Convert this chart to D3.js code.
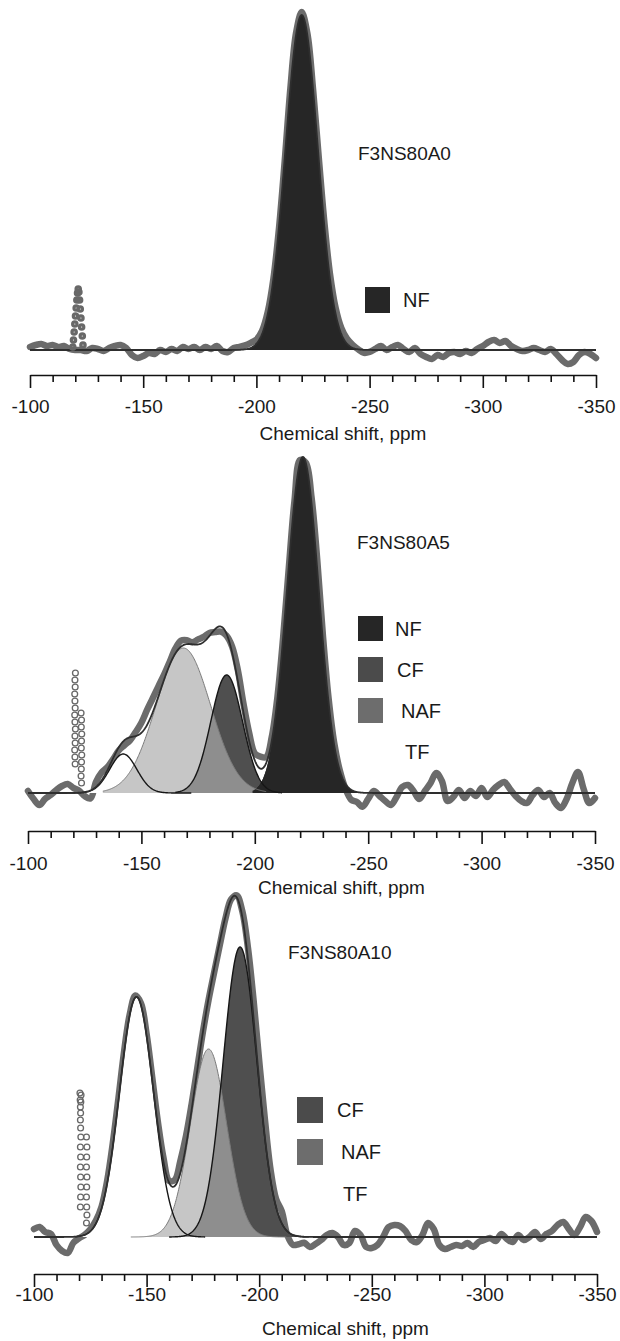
<!DOCTYPE html>
<html>
<head>
<meta charset="utf-8">
<script src="https://cdn.jsdelivr.net/npm/d3@7"></script>
<style>
  body { margin: 0; background: #fff; }
  svg { display: block; }
  text { font-family: "Liberation Sans", Arial, Helvetica, sans-serif; fill: #1a1a1a; }
</style>
</head>
<body>
<svg id="chart" width="620" height="1341"></svg>
<script>
// ---------- data ----------
const shiftTicks = [-100, -150, -200, -250, -300, -350];
const minorTicks = [-110, -120, -130, -140, -160, -170, -180, -190, -210, -220, -230, -240,
                    -260, -270, -280, -290, -310, -320, -330, -340];
const axisTitle = "Chemical shift, ppm";
const sampleIds = ["F3NS80A0", "F3NS80A5", "F3NS80A10"];
const gridStep = 2.5; // ppm spacing of the measured-deviation arrays (from -100 ppm)

// Gaussian fit components: site, centre (ppm), amplitude, sigma (ppm), fitted span (ppm)
const siteA0 = ["NF"];
const centreA0 = [-220];
const ampA0 = [335];
const sigmaA0 = [7.1];
const spanA0 = [[-188, -252]];

const siteA5 = ["TF", "NAF", "CF", "NF"];
const centreA5 = [-142, -168.5, -187.6, -221.2];
const ampA5 = [39, 145, 118, 336];
const sigmaA5 = [6.0, 12.0, 7.0, 7.0];
const spanA5 = [[-112, -172], [-133, -205], [-165, -212], [-199, -246]];

const siteA10 = ["TF", "NAF", "CF"];
const centreA10 = [-145.5, -177.5, -191.5];
const ampA10 = [240, 188, 290];
const sigmaA10 = [7.5, 8.0, 7.5];
const spanA10 = [[-118, -176], [-143, -212], [-160, -222]];

// measured spectrum minus fit, every 2.5 ppm from -100 to -350 ppm
const residA0 = [3, 5, 6, 4, 5, 3, 4, 1, 0, 0, -1, 2, 1, -1, 2, 4, 5, 2, -5, -8,
  -6, -3, -4, 0, -2, 1, -1, 3, 1, 3, 0, 3, 1, 4, -1, -2, 2, 3, 4, 5,
  4, 3, 2, 0, -2, -3, 0, 2, 3, 2, 0, 2, 4, 5, 6, 6, 5, 3, 0, -3,
  -2, 1, 4, 0, 3, 5, 1, -2, 2, -4, -7, -9, -5, -7, -3, -2, -4, -1, -3, 1,
  4, 8, 10, 7, 9, 4, 1, -1, 0, 2, 0, -2, 1, -4, -10, -14, -12, -5, -2, -4, -8];
const residA5 = [2, -6, -12, -6, -2, 3, 7, 9, 5, 2, -4, -8, 5, 8, 3, -1, -3, -5, -3, 4,
  10, 15, 14, 10, 5, 3, 5, 6, 4, 2, 5, 5, 3, -3, -5, -2, 6, 11, 9, 8,
  7, 12, 6, 4, 2, 0, -2, 0, 2, 0, 6, 10, 6, 4, 2, 0, -5, -10, -10, -14,
  -6, 2, -3, -8, -12, -4, 6, 8, 2, -6, 2, 10, 20, 12, -8, -4, 3, -5, 2, -3,
  5, -4, 3, 8, 11, 4, -3, -8, -10, -2, 3, -4, 0, -10, -15, -6, 10, 21, 4, -10, -5];
const residA10 = [8, 10, 5, 3, -8, -14, -16, -6, -2, 0, 2, 3, 2, 3, 4, 3, 2, 1, 2, 2,
  2, 3, 4, 4, 2, 6, 12, 10, 6, 2, 0, -2, -4, -4, -2, 0, 2, 6, 12, 18,
  20, 18, 10, 8, 12, -4, -10, -8, -6, -10, -7, -3, 2, 4, 0, -8, -6, 6, 2, -10,
  -11, -8, 0, 10, 12, 11, 6, -3, -5, 2, 14, 8, -8, -12, -10, -8, -9, -6, -10, -5,
  -3, -1, -4, 3, -2, -5, 2, -3, 0, 5, -2, 3, 6, 12, 15, 8, 2, 10, 20, 16, 5];

// spinning sideband points near -121 ppm
const sbPpmA0 = [-118.9, -119.2, -119.5, -119.8, -120.1, -120.4, -120.7, -121.0, -121.3,
                 -121.6, -121.9, -122.2, -122.5, -122.8, -123.1, -123.4];
const sbAmpA0 = [3, 10, 18, 26, 34, 42, 50, 57, 61, 58, 50, 41, 32, 23, 14, 5];
const sbPpmA5 = [-120.9, -120.7, -120.8, -120.6, -120.7, -120.8, -120.6, -120.7, -120.9, -120.7, -120.8, -120.6, -120.7, -120.8,
                 -123.4, -123.6, -123.5, -123.7, -123.6, -123.5, -123.7, -123.6, -123.5, -123.4, -123.6];
const sbAmpA5 = [120, 113, 106, 99, 92, 85, 78, 71, 64, 57, 50, 43, 36, 29,
                 80, 73, 66, 59, 52, 45, 38, 31, 24, 17, 10];
const sbPpmA10 = [-120.4, -120.9, -120.5, -120.8, -120.6, -120.7, -120.6, -120.7, -120.8, -120.6, -120.7, -120.6, -120.7, -120.8, -120.7, -120.6,
                  -123.3, -123.5, -123.4, -123.3, -123.5, -123.4, -123.3, -123.4, -123.5, -123.3];
const sbAmpA10 = [144, 142, 137, 135, 130, 124, 117, 109, 100, 90, 80, 70, 60, 50, 40, 30,
                  100, 90, 80, 70, 60, 50, 40, 30, 22, 14];

const legendA0 = ["NF"];
const legendA5 = ["NF", "CF", "NAF", "TF"];
const legendA10 = ["CF", "NAF", "TF"];

// ---------- styles ----------
const areaStyle = {
  TF:  { fill: "#ffffff", stroke: "#161616", sw: 1.4 },
  NAF: { fill: "#c6c6c6", stroke: "#7a7a7a", sw: 1.0 },
  CF:  { fill: "#4f4f4f", stroke: "#161616", sw: 1.4 },
  NF:  { fill: "#262626", stroke: "none", sw: 0 }
};
const overlapFill = "#8e8e8e";
const legendFill = { NF: "#262626", CF: "#4b4b4b", NAF: "#6d6d6d" };
const drawOrder = ["TF", "NAF", "CF", "NF"];

const panels = [
  { id: sampleIds[0], site: siteA0, centre: centreA0, amp: ampA0, sigma: sigmaA0, span: spanA0,
    resid: residA0, sbPpm: sbPpmA0, sbAmp: sbAmpA0, legend: legendA0, sbR: 2.2, sbW: 3.2,
    lay: { x0: 30, x1: 596, base: 350, axisY: 375, tickLab: 413, titleY: 440, idX: 358, idY: 160,
           boxX: 365, boxY: 287, boxW: 25, boxH: 26, step: 41, textX: [403] } },
  { id: sampleIds[1], site: siteA5, centre: centreA5, amp: ampA5, sigma: sigmaA5, span: spanA5,
    resid: residA5, sbPpm: sbPpmA5, sbAmp: sbAmpA5, legend: legendA5, sbR: 2.9, sbW: 1.3,
    lay: { x0: 28, x1: 595, base: 793, axisY: 831, tickLab: 870, titleY: 894, idX: 357, idY: 549,
           boxX: 358, boxY: 616, boxW: 25, boxH: 25, step: 41, textX: [395, 397, 401, 405] } },
  { id: sampleIds[2], site: siteA10, centre: centreA10, amp: ampA10, sigma: sigmaA10, span: spanA10,
    resid: residA10, sbPpm: sbPpmA10, sbAmp: sbAmpA10, legend: legendA10, sbR: 2.9, sbW: 1.3,
    lay: { x0: 34, x1: 597, base: 1237, axisY: 1274, tickLab: 1301, titleY: 1335, idX: 288, idY: 959,
           boxX: 297, boxY: 1097, boxW: 26, boxH: 26, step: 42, textX: [337, 341, 343] } }
];

// ---------- drawing ----------
const svg = d3.select("#chart");
const gauss = (v, c, a, s) => a * Math.exp(-((v - c) * (v - c)) / (2 * s * s));

panels.forEach(p => {
  const L = p.lay;
  const g = svg.append("g").attr("class", "panel");
  const x = d3.scaleLinear().domain([-100, -350]).range([L.x0, L.x1]);
  const y = d3.scaleLinear().domain([0, 340]).range([L.base, L.base - 340]);

  const comp = p.site.map((s, k) => ({ site: s, c: p.centre[k], a: p.amp[k], s: p.sigma[k], span: p.span[k] }));
  const fitAt = v => d3.sum(comp, q => gauss(v, q.c, q.a, q.s));

  // measured spectrum: fit + recorded deviation
  const measured = p.resid.map((r, i) => { const v = -100 - gridStep * i; return [v, fitAt(v) + r]; });
  g.append("path").datum(measured)
    .attr("d", d3.line().x(d => x(d[0])).y(d => y(d[1])).curve(d3.curveCatmullRom))
    .attr("fill", "none").attr("stroke", "#6b6b6b").attr("stroke-width", 6.5)
    .attr("stroke-linejoin", "round").attr("stroke-linecap", "round");

  const area = d3.area().x(d => x(d[0])).y0(y(0)).y1(d => y(d[1]));
  const line = d3.line().x(d => x(d[0])).y(d => y(d[1]));
  const fine = (a, b) => d3.range(a, b - 0.001, -0.25);

  const ordered = drawOrder.map(s => comp.find(q => q.site === s)).filter(Boolean);
  ordered.forEach(q => {
    const pts = fine(q.span[0], q.span[1]).map(v => [v, gauss(v, q.c, q.a, q.s)]);
    g.append("path").datum(pts).attr("d", area).attr("fill", areaStyle[q.site].fill);
  });

  // shared NAF/CF region
  const naf = comp.find(q => q.site === "NAF"), cf = comp.find(q => q.site === "CF");
  if (naf && cf) {
    const pts = fine(Math.min(naf.span[0], cf.span[0]), Math.min(naf.span[1], cf.span[1]))
      .map(v => [v, Math.min(gauss(v, naf.c, naf.a, naf.s), gauss(v, cf.c, cf.a, cf.s))]);
    g.append("path").datum(pts).attr("d", area).attr("fill", overlapFill);
  }
  const nf = comp.find(q => q.site === "NF");
  if (nf && naf) {
    const pts = fine(nf.span[0], nf.span[1]).map(v => [v, gauss(v, nf.c, nf.a, nf.s)]);
    g.append("path").datum(pts).attr("d", area).attr("fill", areaStyle.NF.fill);
  }

  ["NAF", "CF", "TF"].forEach(s => {
    const q = comp.find(c => c.site === s);
    if (!q) return;
    const pts = fine(q.span[0], q.span[1]).map(v => [v, gauss(v, q.c, q.a, q.s)]);
    g.append("path").datum(pts).attr("d", line).attr("fill", "none")
      .attr("stroke", areaStyle[s].stroke).attr("stroke-width", areaStyle[s].sw);
  });

  // total fit
  const total = fine(-100, -350).map(v => [v, fitAt(v)]);
  g.append("path").datum(total).attr("d", line).attr("fill", "none")
    .attr("stroke", "#2e2e2e").attr("stroke-width", 1.8);

  // sideband points
  g.selectAll("circle.sb").data(p.sbPpm.map((v, i) => [v, p.sbAmp[i]])).join("circle")
    .attr("class", "sb").attr("cx", d => x(d[0])).attr("cy", d => y(d[1])).attr("r", p.sbR)
    .attr("fill", "none").attr("stroke", "#686868").attr("stroke-width", p.sbW);

  // axis
  const minorAxis = d3.axisBottom(x).tickValues(minorTicks).tickSize(7).tickSizeOuter(0).tickFormat("");
  const majorAxis = d3.axisBottom(x).tickValues(shiftTicks).tickSize(13).tickSizeOuter(0)
    .tickFormat(d => String(d));
  const ga = g.append("g").attr("transform", `translate(0,${L.axisY})`);
  ga.call(minorAxis);
  const gm = g.append("g").attr("transform", `translate(0,${L.axisY})`).call(majorAxis);
  gm.select(".domain").remove();
  [ga, gm].forEach(s => {
    s.selectAll("line").attr("stroke", "#111").attr("stroke-width", 1.6);
    s.selectAll(".domain").attr("stroke", "#111").attr("stroke-width", 1.6);
  });
  gm.selectAll("text").attr("y", L.tickLab - L.axisY).attr("dy", null)
    .attr("font-size", 19).attr("fill", "#1a1a1a");

  g.append("text").attr("x", (L.x0 + L.x1) / 2 + 30).attr("y", L.titleY)
    .attr("text-anchor", "middle").attr("font-size", 19).text(axisTitle);

  g.append("text").attr("x", L.idX).attr("y", L.idY).attr("font-size", 19).text(p.id);

  // legend
  p.legend.forEach((s, i) => {
    const by = L.boxY + i * L.step;
    if (legendFill[s]) {
      g.append("rect").attr("x", L.boxX).attr("y", by).attr("width", L.boxW).attr("height", L.boxH)
        .attr("fill", legendFill[s]);
    }
    g.append("text").attr("x", L.textX[i]).attr("y", by + L.boxH / 2 + 7)
      .attr("font-size", 20).text(s);
  });
});
</script>
</body>
</html>
